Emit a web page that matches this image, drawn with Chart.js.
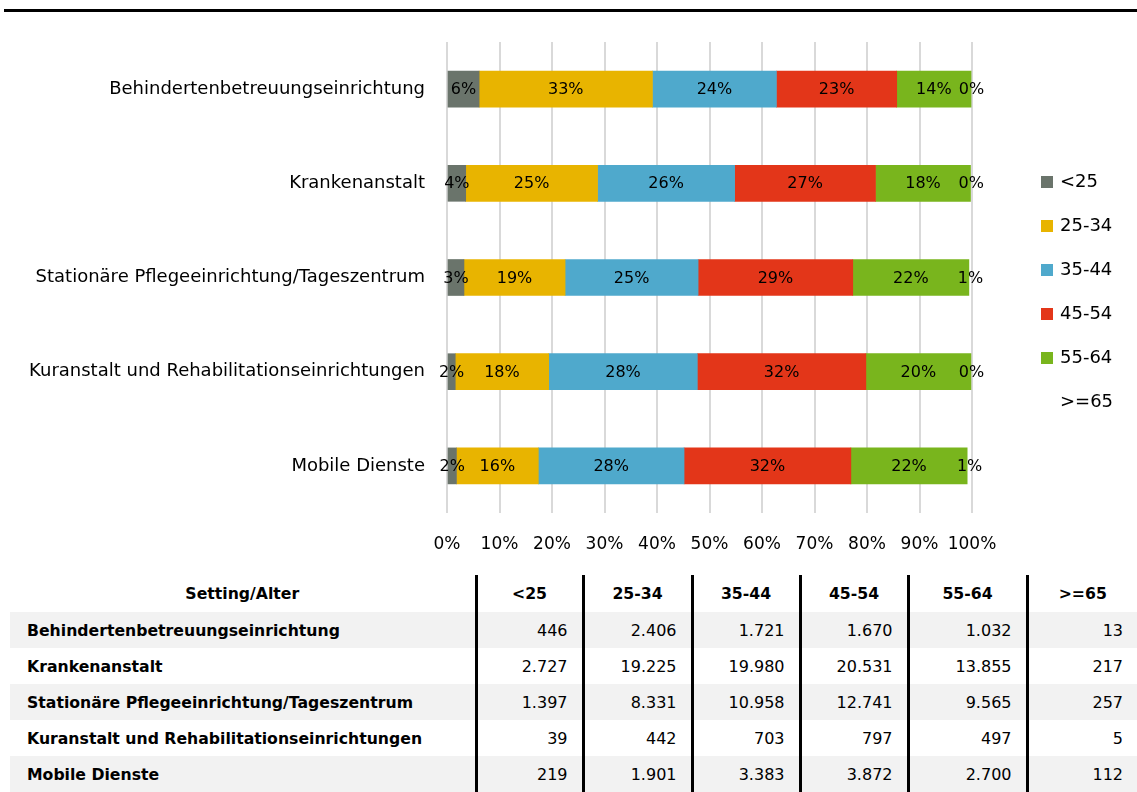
<!DOCTYPE html>
<html lang="de">
<head>
<meta charset="utf-8">
<title>Setting / Alter</title>
<script src="https://cdn.jsdelivr.net/npm/chart.js@4/dist/chart.umd.min.js"></script>
<style>
  html, body { margin: 0; padding: 0; background: #fff; }
  body { width: 1137px; height: 792px; position: relative; overflow: hidden; font-family: "DejaVu Sans", sans-serif; }
  .topline { position: absolute; left: 4px; right: 0; top: 9px; height: 3px; background: #000; }
  .chartbox { position: absolute; left: 0; top: 0; width: 1137px; height: 570px; }
  .legend { position: absolute; left: 1041px; top: 170px; font-size: 18px; color: #000; }
  .legend div { height: 44px; line-height: 22px; white-space: nowrap; }
  .legend span { display: inline-block; width: 12px; height: 12px; margin-right: 7px; vertical-align: -1px; }
  table { position: absolute; left: 10px; top: 575px; width: 1127px; border-collapse: collapse; table-layout: fixed; font-size: 15.7px; }
  th, td { padding: 0 14px 0 0; text-align: right; }
  th { height: 37px; font-weight: bold; text-align: center; padding: 0; }
  td { height: 36px; font-size: 16px; }
  th + th, td + td { border-left: 3px solid #000; }
  td:first-child { text-align: left; font-weight: bold; padding-left: 17px; font-size: 15.7px; }
  tbody tr:nth-child(odd) { background: #f2f2f2; }
</style>
</head>
<body>
<div class="topline"></div>
<div class="chartbox"><canvas id="chart"></canvas></div>
<div class="legend" id="legend"></div>
<table id="tbl">
  <colgroup>
    <col style="width:466px"><col style="width:107px"><col style="width:109px"><col style="width:108px">
    <col style="width:108px"><col style="width:119px"><col style="width:110px">
  </colgroup>
  <thead><tr id="head"></tr></thead>
  <tbody id="body"></tbody>
</table>
<script>
const settings = [
  "Behindertenbetreuungseinrichtung",
  "Krankenanstalt",
  "Stationäre Pflegeeinrichtung/Tageszentrum",
  "Kuranstalt und Rehabilitationseinrichtungen",
  "Mobile Dienste"
];
const ageGroups = ["<25", "25-34", "35-44", "45-54", "55-64", ">=65"];

// Anzahl je Altersgruppe, gleiche Reihenfolge wie settings
const under25 = [446, 2727, 1397, 39, 219];
const age25to34 = [2406, 19225, 8331, 442, 1901];
const age35to44 = [1721, 19980, 10958, 703, 3383];
const age45to54 = [1670, 20531, 12741, 797, 3872];
const age55to64 = [1032, 13855, 9565, 497, 2700];
const age65plus = [13, 217, 257, 5, 112];

const counts = [under25, age25to34, age35to44, age45to54, age55to64, age65plus];
// >=65 hat im Original keine Füllfarbe
const colors = ['#6a746b', '#e8b400', '#4fa9cc', '#e33619', '#79b51d', 'rgba(0,0,0,0)'];

const totals = settings.map((s, j) => counts.reduce((sum, arr) => sum + arr[j], 0));

const fmt = n => n.toLocaleString('de-DE');

// Legende
const legend = document.getElementById('legend');
ageGroups.forEach((g, i) => {
  const row = document.createElement('div');
  const box = document.createElement('span');
  box.style.background = colors[i];
  row.appendChild(box);
  row.appendChild(document.createTextNode(g));
  legend.appendChild(row);
});

// Tabelle
const head = document.getElementById('head');
['Setting/Alter'].concat(ageGroups).forEach(t => {
  const th = document.createElement('th');
  th.textContent = t;
  head.appendChild(th);
});
const body = document.getElementById('body');
settings.forEach((s, j) => {
  const tr = document.createElement('tr');
  const first = document.createElement('td');
  first.textContent = s;
  tr.appendChild(first);
  counts.forEach(arr => {
    const td = document.createElement('td');
    td.textContent = fmt(arr[j]);
    tr.appendChild(td);
  });
  body.appendChild(tr);
});

const segLabels = {
  id: 'segLabels',
  afterDatasetsDraw(chart) {
    const ctx = chart.ctx;
    ctx.save();
    ctx.font = '16px "DejaVu Sans"';
    ctx.fillStyle = '#000';
    ctx.textAlign = 'center';
    ctx.textBaseline = 'middle';
    chart.data.datasets.forEach((ds, i) => {
      chart.getDatasetMeta(i).data.forEach((bar, j) => {
        const p = bar.getCenterPoint();
        ctx.fillText(Math.round(ds.data[j]) + '%', p.x, p.y + 1);
      });
    });
    ctx.restore();
  }
};

const ctx = document.getElementById('chart').getContext('2d');
new Chart(ctx, {
  type: 'bar',
  data: {
    labels: settings,
    datasets: ageGroups.map((g, i) => ({
      label: g,
      data: counts[i].map((v, j) => v / totals[j] * 100),
      backgroundColor: colors[i],
      borderWidth: 0,
      barThickness: 36
    }))
  },
  options: {
    indexAxis: 'y',
    responsive: true,
    maintainAspectRatio: false,
    animation: false,
    layout: { padding: { top: 42, bottom: 0, left: 0, right: 165 } },
    scales: {
      x: {
        stacked: true,
        min: 0,
        max: 100,
        ticks: {
          stepSize: 10, padding: 21, color: '#000', autoSkip: false, maxRotation: 0, minRotation: 0,
          font: { size: 17, family: '"DejaVu Sans"' }, callback: v => v + '%'
        },
        grid: { color: '#d9d9d9', lineWidth: 2, drawTicks: false },
        border: { display: false },
        afterFit: scale => { scale.height = 57; }
      },
      y: {
        stacked: true,
        ticks: { padding: 14, color: '#000', font: { size: 18, family: '"DejaVu Sans"' } },
        grid: { display: false },
        border: { display: false },
        afterFit: scale => { scale.width = 447; }
      }
    },
    plugins: {
      tooltip: { enabled: false },
      legend: { display: false }
    }
  },
  plugins: [segLabels]
});
</script>
</body>
</html>
